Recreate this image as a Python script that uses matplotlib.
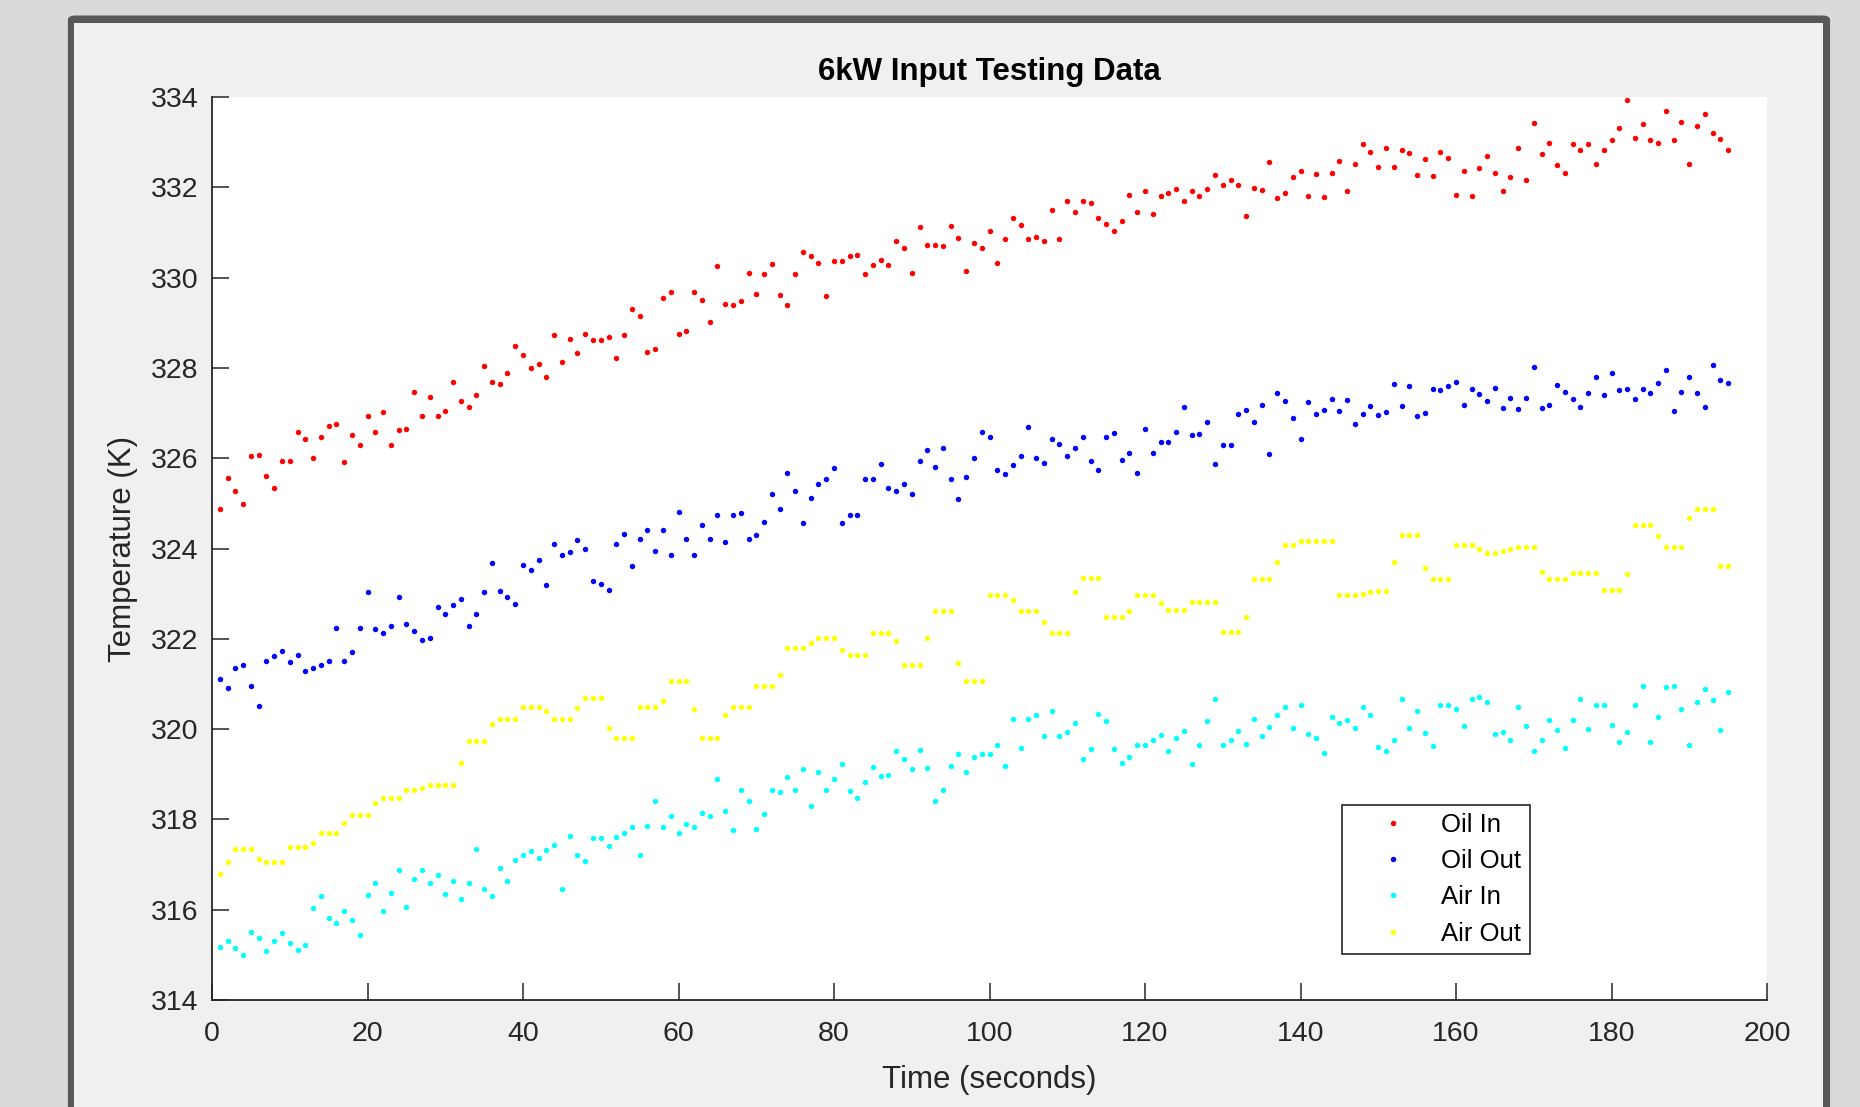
import numpy as np
import matplotlib
matplotlib.use('Agg')
import matplotlib.pyplot as plt
from matplotlib.patches import FancyBboxPatch

plt.rcParams['font.family'] = ['Liberation Sans', 'DejaVu Sans']

# sample times (one reading per second)
time_s = np.arange(1, 196)

oil_in = [
    324.88, 325.56, 325.27, 324.99, 326.04, 326.08, 325.60, 325.34, 325.94, 325.94,
    326.58, 326.43, 326.00, 326.48, 326.71, 326.75, 325.92, 326.51, 326.29, 326.93,
    326.59, 327.02, 326.29, 326.62, 326.64, 327.46, 326.93, 327.36, 326.93, 327.05,
    327.69, 327.27, 327.14, 327.40, 328.05, 327.69, 327.64, 327.89, 328.49, 328.28,
    327.99, 328.09, 327.80, 328.72, 328.13, 328.63, 328.32, 328.74, 328.61, 328.61,
    328.69, 328.22, 328.72, 329.30, 329.15, 328.36, 328.41, 329.54, 329.68, 328.74,
    328.81, 329.68, 329.51, 329.01, 330.25, 329.41, 329.40, 329.48, 330.10, 329.64,
    330.07, 330.29, 329.61, 329.40, 330.07, 330.56, 330.47, 330.33, 329.60, 330.37,
    330.36, 330.47, 330.50, 330.08, 330.28, 330.39, 330.27, 330.81, 330.66, 330.10,
    331.12, 330.73, 330.73, 330.69, 331.15, 330.88, 330.14, 330.77, 330.65, 331.03,
    330.33, 330.85, 331.33, 331.16, 330.85, 330.91, 330.81, 331.50, 330.86, 331.70,
    331.45, 331.70, 331.66, 331.32, 331.19, 331.04, 331.25, 331.84, 331.45, 331.91,
    331.40, 331.80, 331.87, 331.96, 331.70, 331.91, 331.80, 331.96, 332.27, 332.04,
    332.16, 332.04, 331.37, 331.98, 331.94, 332.57, 331.77, 331.87, 332.23, 332.37,
    331.80, 332.30, 331.78, 332.31, 332.59, 331.91, 332.52, 332.96, 332.78, 332.44,
    332.86, 332.44, 332.82, 332.75, 332.27, 332.62, 332.24, 332.79, 332.65, 331.83,
    332.36, 331.81, 332.42, 332.70, 332.31, 331.91, 332.23, 332.86, 332.17, 333.42,
    332.74, 332.97, 332.49, 332.31, 332.96, 332.82, 332.96, 332.52, 332.82, 333.05,
    333.32, 333.93, 333.09, 333.40, 333.05, 332.99, 333.68, 333.05, 333.45, 332.52,
    333.36, 333.62, 333.21, 333.07, 332.83,
]

oil_out = [
    321.10, 320.91, 321.36, 321.42, 320.96, 320.52, 321.52, 321.61, 321.73, 321.48,
    321.65, 321.28, 321.36, 321.42, 321.50, 322.25, 321.50, 321.71, 322.23, 323.03,
    322.21, 322.12, 322.28, 322.92, 322.33, 322.17, 321.98, 322.02, 322.70, 322.55,
    322.74, 322.89, 322.28, 322.55, 323.04, 323.68, 323.06, 322.92, 322.78, 323.63,
    323.53, 323.75, 323.20, 324.11, 323.86, 323.92, 324.18, 323.99, 323.29, 323.22,
    323.09, 324.09, 324.32, 323.62, 324.22, 324.41, 323.95, 324.41, 323.86, 324.80,
    324.21, 323.86, 324.51, 324.21, 324.74, 324.15, 324.75, 324.78, 324.22, 324.29,
    324.58, 325.21, 324.88, 325.67, 325.27, 324.57, 325.12, 325.42, 325.54, 325.79,
    324.57, 324.74, 324.74, 325.54, 325.54, 325.87, 325.34, 325.27, 325.42, 325.21,
    325.93, 326.18, 325.81, 326.22, 325.54, 325.10, 325.59, 326.00, 326.58, 326.48,
    325.73, 325.66, 325.85, 326.06, 326.69, 326.00, 325.89, 326.42, 326.31, 326.05,
    326.22, 326.46, 325.93, 325.73, 326.48, 326.55, 325.96, 326.12, 325.67, 326.65,
    326.12, 326.35, 326.35, 326.59, 327.13, 326.52, 326.54, 326.81, 325.87, 326.30,
    326.29, 326.97, 327.07, 326.81, 327.18, 326.09, 327.44, 327.27, 326.88, 326.43,
    327.25, 326.97, 327.06, 327.31, 327.04, 327.30, 326.75, 326.97, 327.15, 326.96,
    327.02, 327.64, 327.15, 327.60, 326.94, 327.01, 327.53, 327.51, 327.60, 327.69,
    327.17, 327.53, 327.43, 327.27, 327.56, 327.11, 327.34, 327.10, 327.34, 328.02,
    327.11, 327.17, 327.63, 327.47, 327.31, 327.14, 327.44, 327.79, 327.40, 327.89,
    327.51, 327.53, 327.31, 327.53, 327.44, 327.66, 327.96, 327.04, 327.47, 327.80,
    327.44, 327.13, 328.06, 327.73, 327.66,
]

air_in = [
    315.18, 315.31, 315.16, 314.99, 315.51, 315.38, 315.09, 315.31, 315.49, 315.27,
    315.10, 315.23, 316.04, 316.30, 315.81, 315.71, 315.97, 315.78, 315.43, 316.32,
    316.60, 315.97, 316.36, 316.89, 316.06, 316.69, 316.89, 316.60, 316.76, 316.34,
    316.63, 316.24, 316.59, 317.35, 316.47, 316.30, 316.93, 316.63, 317.11, 317.22,
    317.31, 317.15, 317.32, 317.44, 316.47, 317.64, 317.22, 317.09, 317.60, 317.60,
    317.42, 317.62, 317.71, 317.84, 317.22, 317.85, 318.40, 317.84, 318.07, 317.71,
    317.90, 317.84, 318.14, 318.07, 318.90, 318.18, 317.77, 318.66, 318.40, 317.78,
    318.11, 318.66, 318.60, 318.95, 318.66, 319.12, 318.29, 319.04, 318.66, 318.90,
    319.22, 318.64, 318.47, 318.82, 319.16, 318.96, 318.99, 319.51, 319.34, 319.12,
    319.54, 319.14, 318.40, 318.66, 319.18, 319.45, 319.05, 319.38, 319.45, 319.45,
    319.64, 319.18, 320.23, 319.58, 320.23, 320.31, 319.85, 320.41, 319.85, 319.94,
    320.13, 319.34, 319.55, 320.33, 320.17, 319.55, 319.25, 319.38, 319.64, 319.64,
    319.75, 319.87, 319.51, 319.81, 319.95, 319.22, 319.64, 320.17, 320.67, 319.64,
    319.77, 319.95, 319.68, 320.23, 319.85, 320.04, 320.31, 320.50, 320.02, 320.53,
    319.89, 319.81, 319.48, 320.26, 320.13, 320.20, 320.02, 320.48, 320.31, 319.60,
    319.51, 319.77, 320.67, 320.02, 320.41, 319.91, 319.62, 320.53, 320.54, 320.44,
    320.07, 320.67, 320.72, 320.59, 319.89, 319.94, 319.75, 320.50, 320.07, 319.51,
    319.75, 320.20, 319.98, 319.58, 320.20, 320.67, 320.00, 320.53, 320.53, 320.09,
    319.72, 319.94, 320.53, 320.96, 319.72, 320.26, 320.93, 320.96, 320.44, 319.64,
    320.60, 320.89, 320.65, 319.98, 320.83,
]

air_out = [
    316.79, 317.05, 317.35, 317.35, 317.35, 317.13, 317.05, 317.05, 317.05, 317.40,
    317.40, 317.40, 317.48, 317.71, 317.71, 317.71, 317.92, 318.10, 318.10, 318.10,
    318.36, 318.47, 318.47, 318.47, 318.66, 318.66, 318.70, 318.77, 318.77, 318.77,
    318.77, 319.26, 319.74, 319.74, 319.74, 320.11, 320.22, 320.22, 320.22, 320.50,
    320.50, 320.50, 320.41, 320.22, 320.22, 320.22, 320.47, 320.70, 320.70, 320.70,
    320.02, 319.81, 319.81, 319.81, 320.50, 320.50, 320.50, 320.63, 321.07, 321.07,
    321.07, 320.44, 319.81, 319.81, 319.81, 320.31, 320.50, 320.50, 320.50, 320.96,
    320.96, 320.96, 321.19, 321.79, 321.79, 321.79, 321.91, 322.02, 322.02, 322.02,
    321.75, 321.65, 321.65, 321.65, 322.12, 322.12, 322.12, 321.96, 321.42, 321.42,
    321.42, 322.02, 322.61, 322.61, 322.61, 321.46, 321.07, 321.07, 321.07, 322.97,
    322.97, 322.97, 322.87, 322.61, 322.61, 322.61, 322.37, 322.12, 322.12, 322.12,
    323.04, 323.35, 323.35, 323.35, 322.48, 322.48, 322.48, 322.61, 322.96, 322.96,
    322.96, 322.80, 322.64, 322.64, 322.64, 322.82, 322.82, 322.82, 322.82, 322.16,
    322.16, 322.16, 322.48, 323.33, 323.33, 323.33, 323.70, 324.08, 324.08, 324.16,
    324.16, 324.16, 324.16, 324.16, 322.96, 322.96, 322.96, 323.00, 323.04, 323.07,
    323.07, 323.70, 324.29, 324.29, 324.29, 323.57, 323.33, 323.33, 323.33, 324.08,
    324.08, 324.08, 323.99, 323.90, 323.90, 323.95, 323.99, 324.03, 324.03, 324.03,
    323.47, 323.33, 323.33, 323.33, 323.46, 323.46, 323.46, 323.46, 323.09, 323.09,
    323.09, 323.43, 324.51, 324.51, 324.51, 324.28, 324.03, 324.03, 324.03, 324.67,
    324.88, 324.88, 324.88, 323.62, 323.62,
]

x_ticks = list(range(0, 201, 20))
y_ticks = list(range(314, 335, 2))

ink = '#262626'

fig = plt.figure(figsize=(18.6, 11.07), dpi=100)
fig.patch.set_facecolor('#dadada')

# dark frame + light gray panel behind the axes
fig.patches.append(FancyBboxPatch((0.0365, -0.1), 0.9474, 1.086, boxstyle='round,pad=0,rounding_size=0.004',
                                  transform=fig.transFigure, facecolor='#595959', edgecolor='none', zorder=-10))
fig.patches.append(plt.Rectangle((0.0398, -0.1), 0.9403, 1.0792, transform=fig.transFigure,
                                 facecolor='#f0f0f0', edgecolor='none', zorder=-9))

ax = fig.add_axes([0.1140, 0.0966, 0.8360, 0.8158])
ax.set_facecolor('white')

ms = 3.9
ax.plot(time_s, oil_in, 'o', color='#ff0000', ms=ms, mew=0, label='Oil In')
ax.plot(time_s, oil_out, 'o', color='#0000ff', ms=ms, mew=0, label='Oil Out')
ax.plot(time_s, air_in, 'o', color='#00ffff', ms=ms, mew=0, label='Air In')
ax.plot(time_s, air_out, 'o', color='#ffff00', ms=ms, mew=0, label='Air Out')

ax.set_xlim(0, 200)
ax.set_ylim(314, 334)
ax.set_xticks(x_ticks)
ax.set_yticks(y_ticks)

for side in ['top', 'right']:
    ax.spines[side].set_visible(False)
for side in ['left', 'bottom']:
    ax.spines[side].set_color(ink)
    ax.spines[side].set_linewidth(1.3)

ax.tick_params(axis='both', direction='in', length=12, width=1.1, color=ink,
               labelcolor=ink, labelsize=20.5)
ax.tick_params(axis='y', pad=10)
ax.tick_params(axis='x', pad=15)

ax.set_title('6kW Input Testing Data', fontsize=22.5, fontweight='bold', color='black', pad=12)
ax.set_xlabel('Time (seconds)', fontsize=22.5, color=ink)
ax.set_ylabel('Temperature (K)', fontsize=22.5, color=ink)
ax.xaxis.set_label_coords(0.5, -0.0715)
ax.yaxis.set_label_coords(-0.0476, 0.5)

leg = ax.legend(loc='lower left', bbox_to_anchor=(0.7267, 0.051), borderaxespad=0,
                fontsize=18.5, fancybox=False, framealpha=1, edgecolor=ink,
                borderpad=0.32, handlelength=3.3, handletextpad=0.25, labelspacing=0.48)
leg.get_frame().set_linewidth(1.2)

fig.savefig('out.png', dpi=100, facecolor=fig.get_facecolor())
